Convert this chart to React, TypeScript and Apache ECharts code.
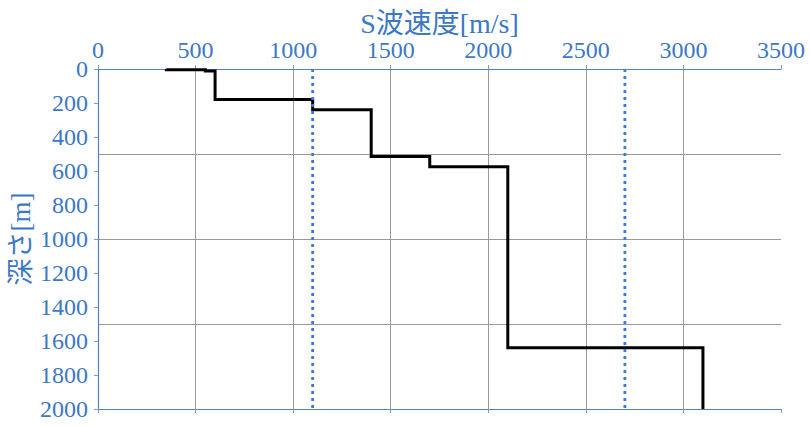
import React, { useEffect, useRef } from 'react';
import * as echarts from 'echarts';

// layer velocities [m/s] and the depth of each layer's bottom [m]
const velocities = [350, 550, 600, 1100, 1400, 1700, 2100, 3100];
const layerBottoms = [5, 12, 180, 240, 515, 575, 1640, 2000];
// dotted reference velocities
const refVelocities = [1100, 2700];

const BLUE_TEXT = '#3c78c8';
const BLUE_AXIS = '#4d82cc';
const NUM_FONT = 'Liberation Serif, serif';
const NAME_FONT = 'Liberation Serif, Noto Sans CJK JP';

const buildProfile = () => {
    const pts: number[][] = [];
    let top = 0;
    velocities.forEach((v, i) => {
        pts.push([v, top]);
        pts.push([v, layerBottoms[i]]);
        top = layerBottoms[i];
    });
    return pts;
};

const plain = (v: number) => String(v);

const App: React.FC = () => {
    const chartRef = useRef<HTMLDivElement>(null);

    useEffect(() => {
        if (!chartRef.current) return;
        const chart = echarts.init(chartRef.current, undefined, { renderer: 'svg' });

        const tickStyle = { show: true, length: 4, lineStyle: { color: '#7f9cc8', width: 1 } };

        const option: echarts.EChartsOption = {
            animation: false,
            backgroundColor: '#ffffff',
            grid: { left: 98, right: 29, top: 69, bottom: 17, containLabel: false, outerBoundsMode: 'none' } as any,
            xAxis: [
                {
                    type: 'value',
                    position: 'top',
                    min: 0,
                    max: 3500,
                    interval: 500,
                    name: 'S波速度[m/s]',
                    nameLocation: 'middle',
                    nameGap: 32,
                    nameMoveOverlap: false,
                    nameTextStyle: { color: BLUE_TEXT, fontSize: 28, fontFamily: NAME_FONT },
                    axisLine: { show: true, onZero: false, lineStyle: { color: BLUE_AXIS, width: 1.2 } },
                    axisTick: tickStyle,
                    axisLabel: { color: BLUE_TEXT, fontSize: 24, margin: 7, fontFamily: NUM_FONT, formatter: plain },
                    splitLine: {
                        show: true,
                        showMinLine: false,
                        showMaxLine: false,
                        lineStyle: { color: '#9a9a9a', width: 1 },
                    },
                } as any,
                {
                    type: 'value',
                    position: 'bottom',
                    min: 0,
                    max: 3500,
                    interval: 500,
                    axisLine: { show: true, onZero: false, lineStyle: { color: BLUE_AXIS, width: 1.2 } },
                    axisTick: tickStyle,
                    axisLabel: { show: false },
                    splitLine: { show: false },
                },
            ],
            yAxis: [
                {
                    type: 'value',
                    inverse: true,
                    position: 'left',
                    min: 0,
                    max: 2000,
                    interval: 200,
                    name: '深さ[m]',
                    nameLocation: 'middle',
                    nameRotate: 90,
                    nameGap: 64,
                    nameMoveOverlap: false,
                    nameTextStyle: { color: BLUE_TEXT, fontSize: 27, fontFamily: NAME_FONT },
                    axisLine: { show: true, onZero: false, lineStyle: { color: BLUE_AXIS, width: 1.2 } },
                    axisTick: tickStyle,
                    axisLabel: { color: BLUE_TEXT, fontSize: 24, margin: 10, fontFamily: NUM_FONT, formatter: plain },
                    splitLine: { show: false },
                } as any,
                {
                    // only supplies the horizontal grid every 500 m
                    type: 'value',
                    inverse: true,
                    position: 'right',
                    min: 0,
                    max: 2000,
                    interval: 500,
                    axisLine: { show: false },
                    axisTick: { show: false },
                    axisLabel: { show: false },
                    splitLine: {
                        show: true,
                        showMinLine: false,
                        showMaxLine: false,
                        lineStyle: { color: '#9a9a9a', width: 1 },
                    },
                },
            ],
            series: [
                {
                    type: 'line',
                    xAxisIndex: 0,
                    yAxisIndex: 0,
                    data: buildProfile(),
                    showSymbol: false,
                    symbol: 'none',
                    lineStyle: { color: '#000000', width: 3, join: 'miter' },
                    z: 3,
                },
                ...refVelocities.map(v => ({
                    type: 'line' as const,
                    xAxisIndex: 0,
                    yAxisIndex: 0,
                    data: [[v, 0], [v, 2000]],
                    showSymbol: false,
                    symbol: 'none',
                    lineStyle: { color: '#3a7cdc', width: 2.8, type: [3, 4] as number[] },
                    z: 4,
                })),
            ],
        };

        chart.setOption(option);
        return () => chart.dispose();
    }, []);

    return (
        <div
            ref={chartRef}
            style={{ position: 'fixed', left: 0, top: 0, width: 810, height: 426 }}
        />
    );
};

export default App;
